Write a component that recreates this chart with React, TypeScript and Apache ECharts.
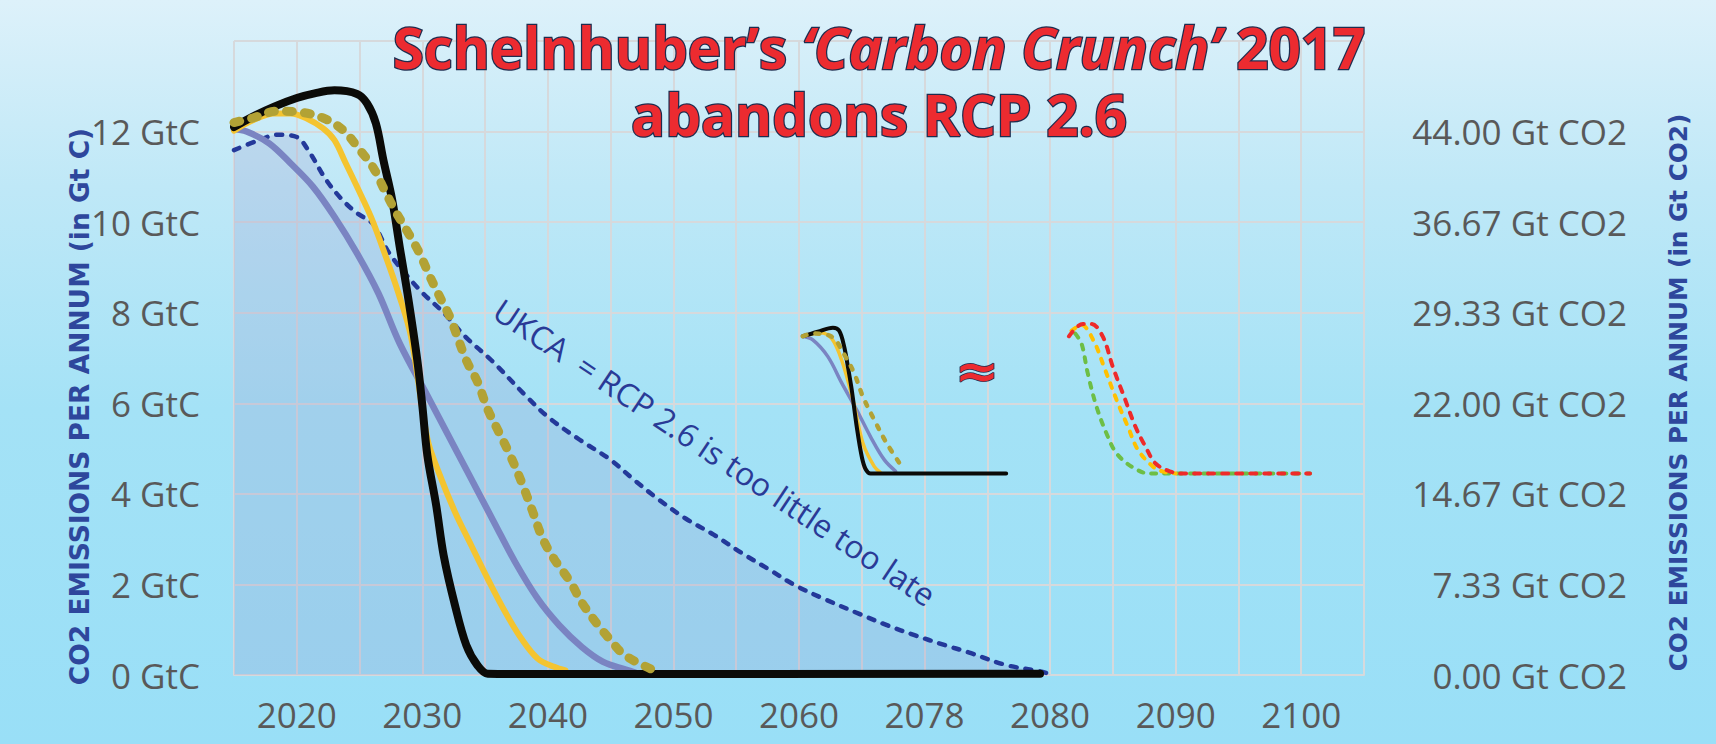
import { useEffect, useRef } from "react";
import * as echarts from "echarts";

// ---------- axis ticks ----------
const xTickYears = [2020, 2030, 2040, 2050, 2060, 2070, 2080, 2090, 2100];
const xTickLabels = ["2020", "2030", "2040", "2050", "2060", "2078", "2080", "2090", "2100"];
const gtcToCo2 = 44 / 12;

// ---------- main curves [year, GtC] ----------
const ukcaRcp26 = [
  [2015, 11.59], [2016.9, 11.8], [2018.5, 11.93], [2020, 11.88], [2021, 11.55], [2022.3, 10.95],
  [2023.6, 10.5], [2024.8, 10.2], [2026.1, 9.95], [2027.4, 9.3], [2029.8, 8.5], [2031.7, 8.0],
  [2033.5, 7.45], [2035.5, 6.95], [2038.3, 6.15], [2040, 5.7], [2042.5, 5.2], [2044.9, 4.77],
  [2046.9, 4.3], [2048.8, 3.88], [2051, 3.45], [2053.2, 3.1], [2055.4, 2.7], [2057.5, 2.35],
  [2059.7, 1.98], [2062, 1.68], [2064.8, 1.35], [2067, 1.1], [2069.2, 0.88], [2071.5, 0.67],
  [2073.5, 0.5], [2076.5, 0.22], [2079.2, 0.08], [2080, 0.02],
];
const lavenderPath = [
  [2015, 12.05], [2016, 12.0], [2017.8, 11.74], [2019.5, 11.3], [2021.3, 10.78], [2023, 10.12],
  [2024.8, 9.31], [2026.5, 8.43], [2028.2, 7.32], [2030.4, 6.17], [2032.2, 5.22], [2033.9, 4.33],
  [2035.7, 3.38], [2037.4, 2.49], [2039.2, 1.68], [2040.9, 1.1], [2042.7, 0.62], [2044.4, 0.29],
  [2046.2, 0.12], [2047, 0.05],
];
const yellowPath = [
  [2015, 12.02], [2016.5, 12.25], [2018.2, 12.4], [2019.5, 12.4], [2020.8, 12.29], [2022.1, 12.07],
  [2023, 11.81], [2023.9, 11.3], [2024.8, 10.78], [2025.9, 10.12], [2027, 9.31], [2028.1, 8.43],
  [2029.1, 7.47], [2030.4, 5.22], [2031.3, 4.48], [2032.6, 3.6], [2033.9, 2.86], [2035.2, 2.13],
  [2036.6, 1.39], [2037.9, 0.8], [2039.2, 0.36], [2040.5, 0.18], [2041.4, 0.1],
];
const blackPath = [
  [2015, 12.1], [2016.5, 12.33], [2018.2, 12.55], [2020, 12.74], [2021.5, 12.85], [2023, 12.91],
  [2024.8, 12.83], [2025.6, 12.62], [2026.3, 12.18], [2026.9, 11.37], [2027.6, 10.49],
  [2028.2, 9.45], [2028.9, 8.28], [2029.6, 6.95], [2030, 5.95], [2030.4, 4.85], [2031.1, 3.75],
  [2031.7, 2.64], [2032.6, 1.54], [2033.5, 0.66], [2034.4, 0.21], [2035.2, 0.03], [2040, 0.02],
  [2079.2, 0.03],
];
const olivePath = [
  [2015, 12.2], [2016.5, 12.3], [2018.4, 12.45], [2020.2, 12.43], [2022.1, 12.3], [2023.7, 12.03],
  [2025, 11.6], [2026.1, 11.2], [2027, 10.7], [2027.8, 10.27], [2028.9, 9.75], [2029.8, 9.3],
  [2030.6, 8.8], [2031.3, 8.4], [2032.2, 7.9], [2033.5, 6.95], [2034.4, 6.47], [2035.2, 5.87],
  [2036.1, 5.36], [2037, 4.85], [2037.9, 4.26], [2038.8, 3.6], [2039.6, 3.0], [2040.5, 2.56],
  [2041.8, 2.05], [2042.7, 1.6], [2044, 1.1], [2044.9, 0.8], [2046.1, 0.44], [2048.4, 0.11],
];

// ---------- small inset copies ----------
const miniBlack = [
  [2060.3, 7.48], [2061.5, 7.58], [2062.7, 7.67], [2063.2, 7.6], [2063.6, 7.25], [2063.9, 6.8],
  [2064.2, 6.3], [2064.6, 5.48], [2065, 4.82], [2065.3, 4.55], [2065.7, 4.45], [2076.5, 4.45],
];
const miniYellow = [
  [2060.3, 7.48], [2061.7, 7.56], [2062.6, 7.43], [2063.4, 6.95], [2064.3, 6.07], [2065.1, 5.11],
  [2066, 4.6], [2066.5, 4.47],
];
const miniLavender = [
  [2060.3, 7.48], [2061.1, 7.4], [2062.3, 7.03], [2063.4, 6.45], [2064.6, 5.85], [2065.7, 5.26],
  [2066.8, 4.75], [2067.7, 4.5],
];
const miniOlive = [
  [2060.3, 7.48], [2061.1, 7.54], [2062.6, 7.47], [2063.7, 7.03], [2064.4, 6.66], [2065.1, 6.14],
  [2066, 5.63], [2067, 5.11], [2068.1, 4.64],
];
const insetGreen = [
  [2082, 7.54], [2082.5, 7.32], [2083, 6.66], [2083.7, 5.92], [2084.6, 5.26], [2085.3, 4.89],
  [2086.5, 4.6], [2087.9, 4.45], [2100.7, 4.45],
];
const insetOrange = [
  [2081.7, 7.6], [2082.5, 7.73], [2083.5, 7.36], [2084.3, 6.8], [2085.3, 6.07], [2086.2, 5.48],
  [2087, 4.97], [2088.2, 4.6], [2089, 4.49], [2090, 4.45],
];
const insetRed = [
  [2081.5, 7.48], [2082.6, 7.75], [2083.3, 7.75], [2084.2, 7.47], [2085, 6.8], [2085.9, 6.14],
  [2086.8, 5.48], [2087.6, 5.04], [2088.4, 4.67], [2089.6, 4.49], [2090.5, 4.45], [2100.7, 4.45],
];

function lineSeries(name: string, data: number[][], color: string, width: number, type: any, z: number, extra: any = {}) {
  return {
    name,
    type: "line",
    data,
    symbol: "none",
    smooth: 0.35,
    silent: true,
    z,
    lineStyle: { color, width, type, cap: "round", join: "round" },
    ...extra,
  };
}

const titleStyle = {
  fill: "#EC2B30",
  stroke: "#1E2D4F",
  lineWidth: 2.5,
  fontFamily: "Open Sans",
  fontWeight: "bold",
  fontSize: 56.5,
  lineHeight: 60,
};

export default function App() {
  const ref = useRef<HTMLDivElement>(null);
  useEffect(() => {
    const chart = echarts.init(ref.current!, null, { renderer: "svg" });
    const labelColor = "#595959";
    const labelFont = "Open Sans";
    const gridColor = "#D6D9DC";
    chart.setOption({
      animation: false,
      backgroundColor: "transparent",
      grid: { left: 234, right: 352, top: 41, bottom: 69, containLabel: false },
      xAxis: {
        type: "value",
        min: 2015,
        max: 2105,
        interval: 5,
        axisLine: { show: true, lineStyle: { color: gridColor, width: 2 } },
        axisTick: { show: false },
        splitLine: { show: true, lineStyle: { color: gridColor, width: 2 } },
        axisLabel: {
          color: labelColor,
          fontFamily: labelFont,
          fontSize: 35,
          margin: 22,
          formatter: (v: number) => {
            const i = xTickYears.indexOf(Math.round(v));
            return i >= 0 ? xTickLabels[i] : "";
          },
        },
      },
      yAxis: [
        {
          type: "value",
          min: 0,
          max: 14,
          interval: 2,
          axisLine: { show: false },
          axisTick: { show: false },
          splitLine: { show: true, lineStyle: { color: gridColor, width: 2 } },
          axisLabel: {
            color: labelColor,
            fontFamily: labelFont,
            fontSize: 35,
            margin: 34,
            formatter: (v: number) => (v > 13 ? "" : `${v} GtC`),
          },
        },
        {
          type: "value",
          position: "right",
          min: 0,
          max: 14,
          interval: 2,
          axisLine: { show: false },
          axisTick: { show: false },
          splitLine: { show: false },
          axisLabel: {
            color: labelColor,
            fontFamily: labelFont,
            fontSize: 35,
            align: "right",
            margin: 263,
            formatter: (v: number) => (v > 13 ? "" : `${(v * gtcToCo2).toFixed(2)} Gt CO2`),
          },
        },
      ],
      graphic: [
        {
          type: "text",
          x: 879,
          y: 47,
          z: 100,
          style: {
            ...titleStyle,
            text: "Schelnhuber’s {i|‘Carbon Crunch’} 2017",
            textAlign: "center",
            textVerticalAlign: "middle",
            align: "center",
            verticalAlign: "middle",
            rich: { i: { ...titleStyle, fontStyle: "italic" } },
          },
        },
        {
          type: "text",
          x: 879,
          y: 114,
          z: 100,
          style: {
            ...titleStyle,
            text: "abandons RCP 2.6",
            textAlign: "center",
            textVerticalAlign: "middle",
            align: "center",
            verticalAlign: "middle",
          },
        },
        {
          type: "text",
          x: 715,
          y: 452,
          rotation: (-33.8 * Math.PI) / 180,
          z: 100,
          style: {
            text: "UKCA  = RCP 2.6 is too little too late",
            fill: "#2A3A96",
            fontFamily: "Open Sans",
            fontSize: 32,
            textAlign: "center",
            textVerticalAlign: "middle",
            align: "center",
            verticalAlign: "middle",
          },
        },
        {
          type: "text",
          x: 977,
          y: 371,
          z: 100,
          scaleX: 1.15,
          style: {
            text: "≈",
            fill: "#EC2B30",
            stroke: "#1E2D4F",
            lineWidth: 1.5,
            fontFamily: "DejaVu Sans",
            fontWeight: "bold",
            fontSize: 46,
            textAlign: "center",
            textVerticalAlign: "middle",
            align: "center",
            verticalAlign: "middle",
          },
        },
        {
          type: "text",
          x: 79.5,
          y: 406.5,
          rotation: Math.PI / 2,
          z: 100,
          style: {
            text: "CO2 EMISSIONS PER ANNUM (in Gt C)",
            fill: "#2E479C",
            fontFamily: "DejaVu Sans",
            fontWeight: "bold",
            fontSize: 26.5,
            textAlign: "center",
            textVerticalAlign: "middle",
            align: "center",
            verticalAlign: "middle",
          },
        },
        {
          type: "text",
          x: 1678,
          y: 392.5,
          rotation: Math.PI / 2,
          z: 100,
          style: {
            text: "CO2 EMISSIONS PER ANNUM (in Gt CO2)",
            fill: "#2E479C",
            fontFamily: "DejaVu Sans",
            fontWeight: "bold",
            fontSize: 24.7,
            textAlign: "center",
            textVerticalAlign: "middle",
            align: "center",
            verticalAlign: "middle",
          },
        },
      ],
      series: [
        lineSeries("UKCA = RCP 2.6", ukcaRcp26, "#24399A", 4.5, [6, 9], 2, {
          areaStyle: { color: "rgba(150, 150, 205, 0.33)", origin: "start" },
        }),
        lineSeries("Lavender", lavenderPath, "#7A84C2", 6.5, "solid", 3),
        lineSeries("Yellow", yellowPath, "#F4C430", 6, "solid", 4),
        lineSeries("Black", blackPath, "#0B0B08", 8, "solid", 5),
        lineSeries("Olive", olivePath, "#B2A235", 9, [6, 12], 6),
        lineSeries("Mini lavender", miniLavender, "#7A84C2", 3.5, "solid", 3),
        lineSeries("Mini yellow", miniYellow, "#F4C430", 3.5, "solid", 4),
        lineSeries("Mini black", miniBlack, "#0B0B08", 4, "solid", 5),
        lineSeries("Mini olive", miniOlive, "#B2A235", 4.5, [4, 9], 6),
        lineSeries("Inset green", insetGreen, "#6DBE45", 4, [5, 8], 4),
        lineSeries("Inset orange", insetOrange, "#FFC000", 4, [5, 8], 5),
        lineSeries("Inset red", insetRed, "#EE2A2A", 4, [6, 8], 6),
      ],
    });
    return () => chart.dispose();
  }, []);
  return (
    <div
      ref={ref}
      style={{
        position: "fixed",
        left: 0,
        top: 0,
        width: 1716,
        height: 744,
        background: "linear-gradient(180deg, #DDF1FA 0%, #BFE8F7 25%, #A4E2F6 55%, #99DFF7 100%)",
      }}
    />
  );
}
